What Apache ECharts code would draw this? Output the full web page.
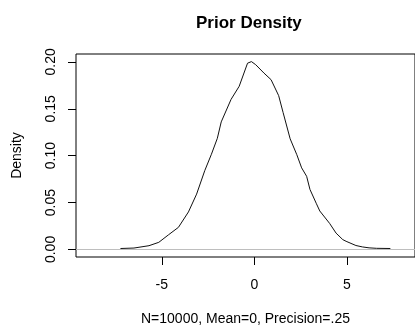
<!DOCTYPE html>
<html>
<head>
<meta charset="utf-8">
<script src="https://cdn.jsdelivr.net/npm/echarts@6/dist/echarts.min.js"></script>
<style>
html,body{margin:0;padding:0;background:#fff;}
#c{width:415px;height:331px;}
</style>
</head>
<body>
<div id="c"></div>
<script>
// Density estimate
var xs = [-7.23, -6.5, -5.69, -5.16, -4.63, -4.10, -3.56, -3.12, -2.68, -2.32, -2.0, -1.79, -1.26, -0.82, -0.37, -0.16, 0.07, 0.52, 0.9, 1.31, 1.55, 1.93, 2.29, 2.55, 2.82, 3.0, 3.35, 3.53, 4.06, 4.41, 4.77, 4.95, 5.48, 5.83, 6.19, 6.6, 7.34];
var density = [0.001, 0.0015, 0.004, 0.0076, 0.0157, 0.0236, 0.040, 0.059, 0.084, 0.1015, 0.1185, 0.136, 0.160, 0.174, 0.1986, 0.2003, 0.197, 0.188, 0.181, 0.164, 0.146, 0.118, 0.101, 0.087, 0.078, 0.064, 0.0487, 0.041, 0.0278, 0.0174, 0.0105, 0.0087, 0.0042, 0.0027, 0.0017, 0.0012, 0.001];
var xTicks = [-5, 0, 5];
var yTicks = [0, 0.05, 0.10, 0.15, 0.20];
var titleText = 'Prior Density';
var xName = 'N=10000, Mean=0, Precision=.25';
var yName = 'Density';

var pts = xs.map(function (x, i) { return [x, density[i]]; });
var font = 'Liberation Sans, Arial, sans-serif';
var chart = echarts.init(document.getElementById('c'), null, {renderer: 'canvas'});
chart.setOption({
  animation: false,
  backgroundColor: '#fff',
  title: {
    text: titleText, left: 191, top: 10,
    textStyle: {fontFamily: font, fontSize: 17, fontWeight: 'bold', color: '#000'}
  },
  grid: {left: 76, top: 54, right: -5, bottom: 70, show: true, borderColor: '#000', borderWidth: 1, backgroundColor: 'transparent'},
  xAxis: {
    type: 'value', min: -9.63, max: 8.67,
    axisLine: {show: false, onZero: false},
    splitLine: {show: false},
    axisTick: {show: true, inside: false, length: 8, customValues: xTicks, lineStyle: {color: '#000'}},
    axisLabel: {customValues: xTicks, margin: 21, color: '#000', fontFamily: font, fontSize: 14},
    name: xName, nameLocation: 'middle', nameGap: 55,
    nameTextStyle: {color: '#000', fontFamily: font, fontSize: 14}
  },
  yAxis: {
    type: 'value', min: -0.00805, max: 0.2084,
    axisLine: {show: false, onZero: false},
    splitLine: {show: false},
    axisTick: {show: true, inside: false, length: 8, customValues: yTicks, lineStyle: {color: '#000'}},
    axisLabel: {customValues: yTicks, rotate: 90, margin: 18, color: '#000', fontFamily: font, fontSize: 14,
      formatter: function (v) { return v.toFixed(2); }},
    name: yName, nameLocation: 'middle', nameGap: 52, nameRotate: 90,
    nameTextStyle: {color: '#000', fontFamily: font, fontSize: 14}
  },
  series: [{
    type: 'line', data: pts, showSymbol: false, smooth: false,
    lineStyle: {color: '#111', width: 1},
    markLine: {
      silent: true, symbol: 'none', label: {show: false},
      lineStyle: {color: '#bebebe', width: 1, type: 'solid'},
      data: [{yAxis: 0}]
    }
  }]
});
</script>
</body>
</html>
